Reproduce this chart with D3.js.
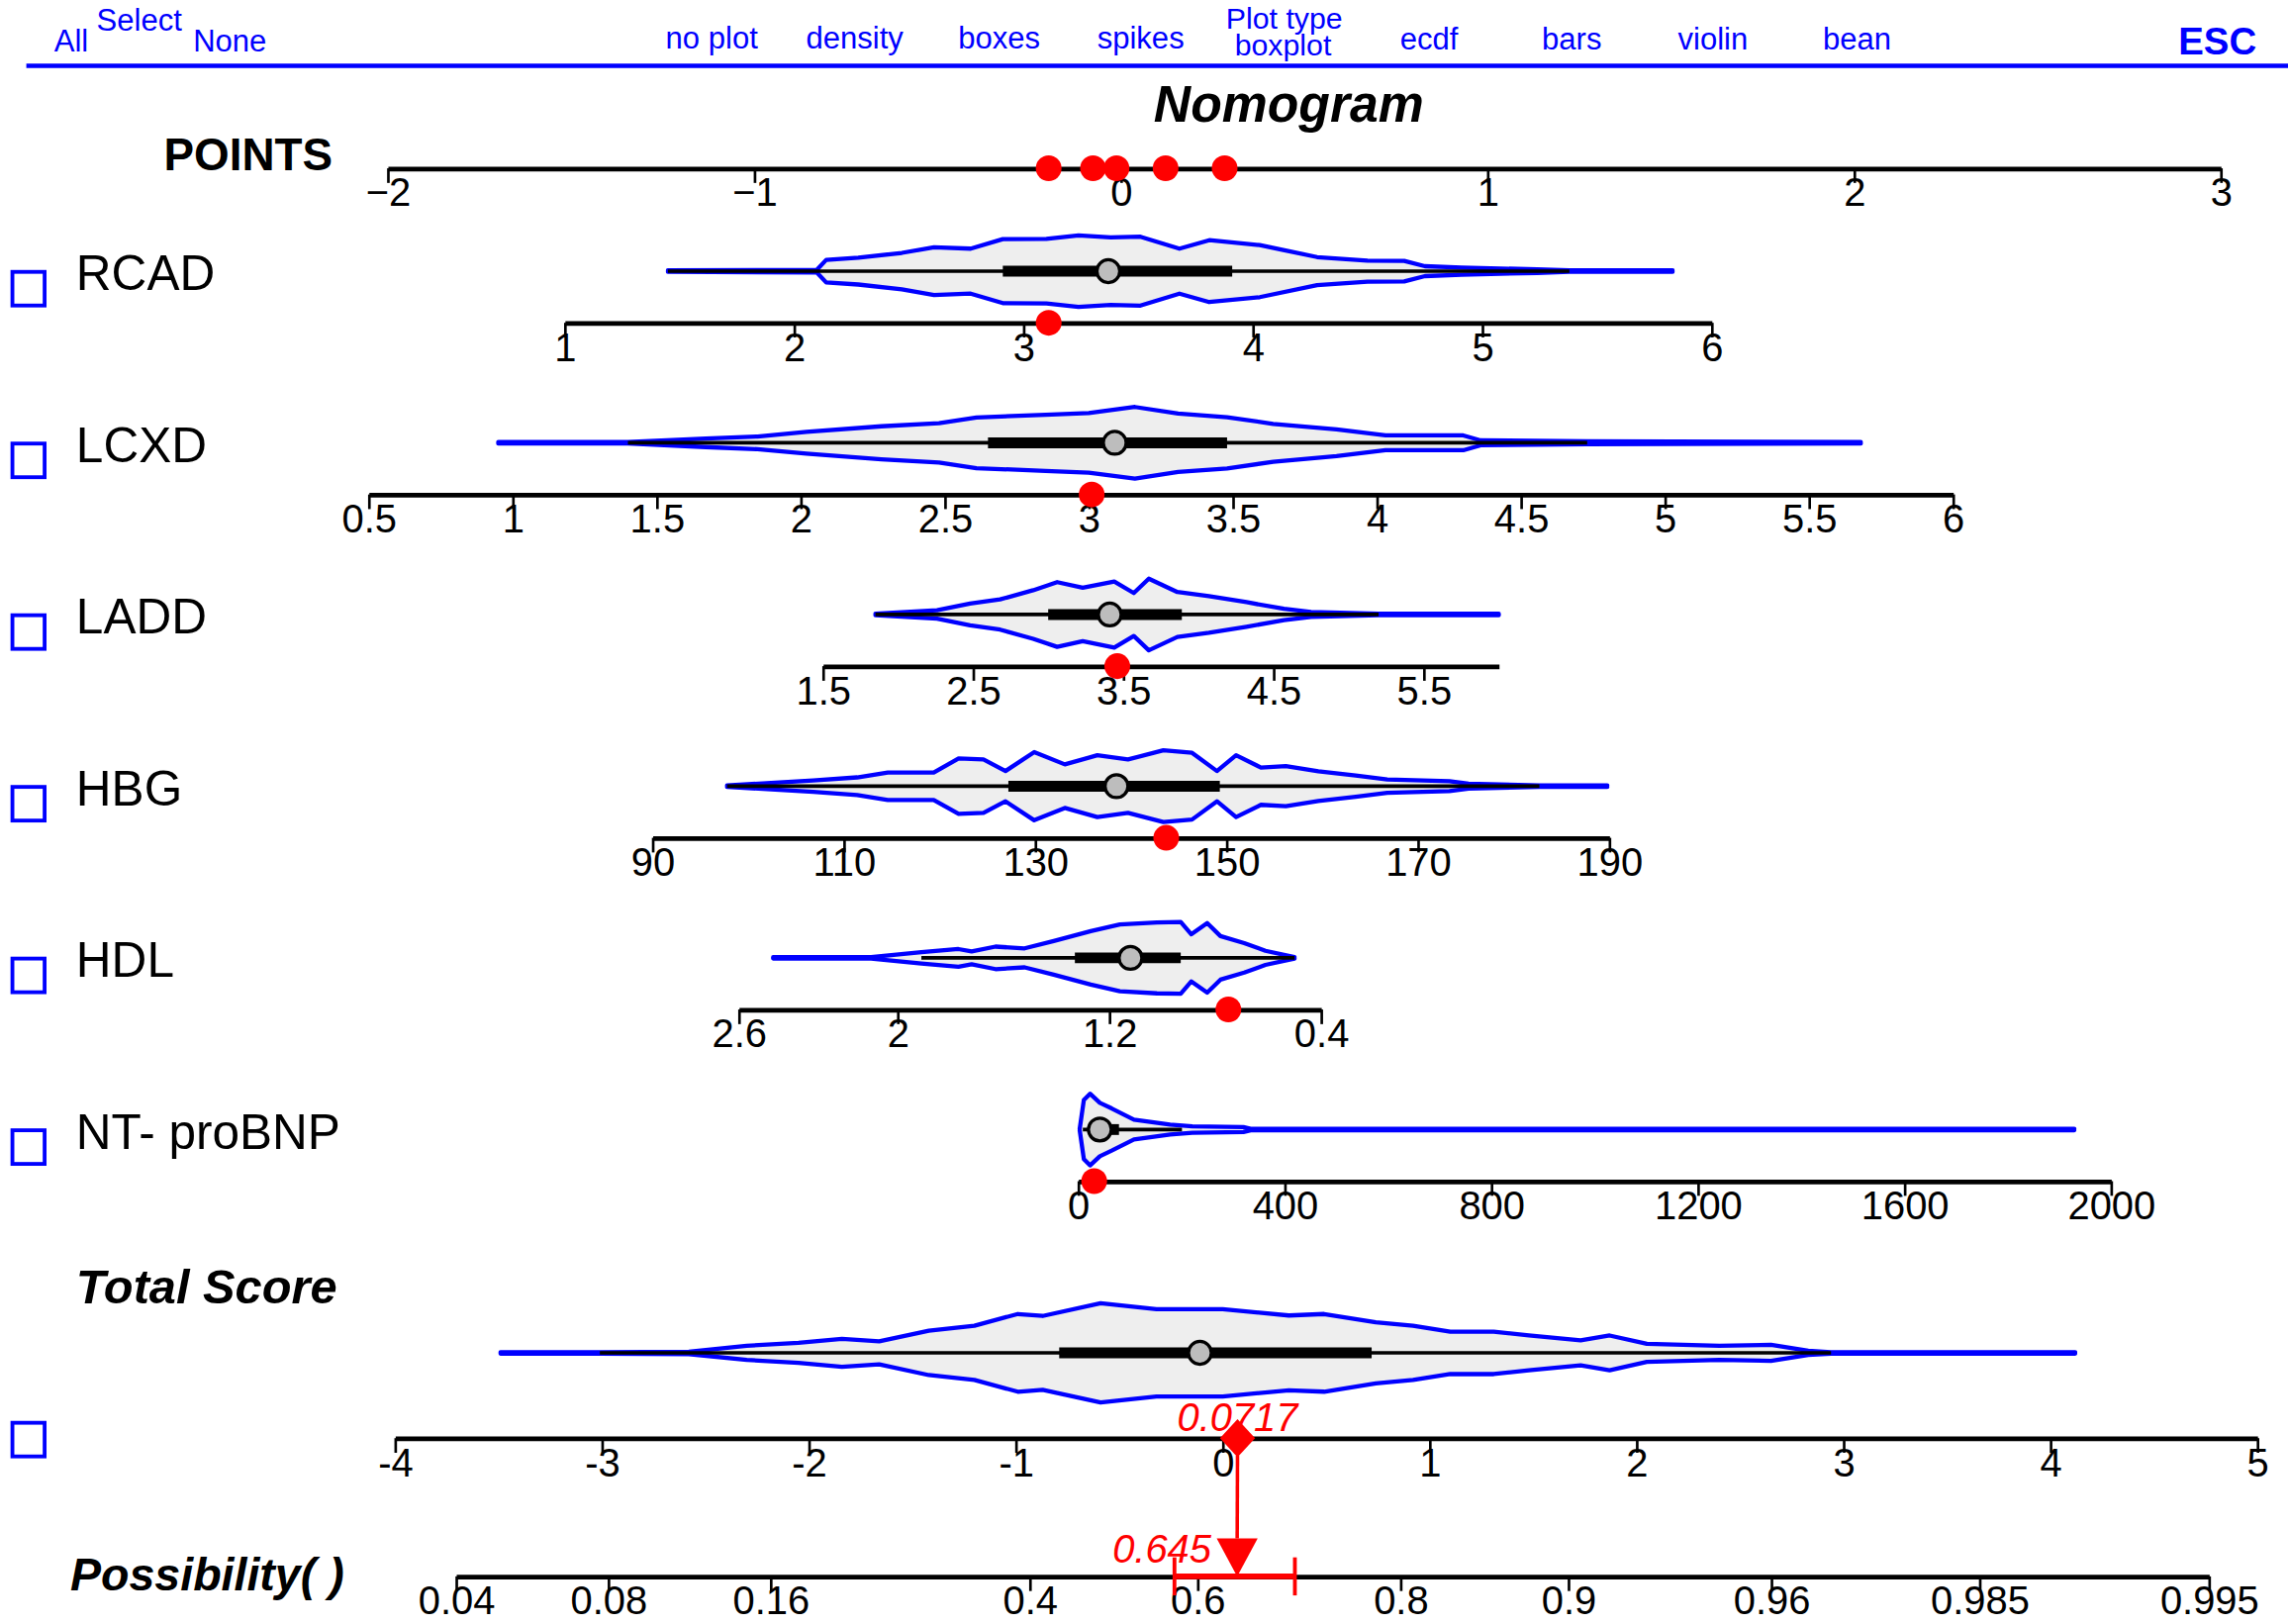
<!DOCTYPE html>
<html lang="en">
<head>
<meta charset="UTF-8">
<title>Nomogram</title>
<style>
*{margin:0;padding:0;}
body{background:#fff;}
</style>
</head>
<body>
<div id="container"></div>
<script src="https://cdn.jsdelivr.net/npm/d3@7/dist/d3.min.js"></script>
<script>
// ---- data ----
var menuLabels = ["All", "Select", "None", "no plot", "density", "boxes", "spikes", "Plot type", "boxplot", "ecdf", "bars", "violin", "bean"];
var rowNames = ["RCAD", "LCXD", "LADD", "HBG", "HDL", "NT- proBNP"];

var pointsTicks = [-2, -1, 0, 1, 2, 3];
var pointsValues = [-0.197, -0.076, -0.012, 0.122, 0.283];

var rcadTicks = [1, 2, 3, 4, 5, 6];
var rcadX = [1.45, 2.10, 2.14, 2.28, 2.47, 2.61, 2.77, 2.91, 3.10, 3.24, 3.38, 3.51, 3.68, 3.81, 4.03, 4.28, 4.50, 4.66, 4.75, 4.91, 5.24, 5.38, 5.83];
var rcadDens = [0, 2, 30, 36, 50, 66, 62, 89, 90, 100, 94, 96, 62, 86, 72, 38, 28, 27, 12, 8, 3, 0, 0];
var rcadBox = [1.45, 2.91, 3.37, 3.91, 5.38];
var rcadValue = 3.11;

var lcxdTicks = [0.5, 1, 1.5, 2, 2.5, 3, 3.5, 4, 4.5, 5, 5.5, 6];
var lcxdX = [0.95, 1.40, 1.67, 1.85, 2.02, 2.28, 2.48, 2.61, 2.85, 3.00, 3.16, 3.31, 3.48, 3.64, 3.86, 4.03, 4.30, 4.36, 4.73, 5.68];
var lcxdDens = [0, 0, 10, 16, 29, 45, 54, 70, 78, 83, 100, 81, 71, 52, 36, 19, 19, 5, 2, 0];
var lcxdBox = [1.40, 2.65, 3.09, 3.48, 4.73];
var lcxdValue = 3.01;

var laddTicks = [1.5, 2.5, 3.5, 4.5, 5.5];
var laddX = [1.85, 2.26, 2.48, 2.68, 2.90, 3.06, 3.23, 3.44, 3.57, 3.67, 3.86, 4.07, 4.32, 4.57, 4.75, 5.20, 6.00];
var laddDens = [0, 10, 29, 41, 67, 90, 74, 92, 59, 100, 62, 50, 33, 14, 5, 0, 0];
var laddBox = [1.85, 3.0, 3.41, 3.89, 5.2];
var laddValue = 3.46;

var hbgTicks = [90, 110, 130, 150, 170, 190];
var hbgX = [97.8, 106.8, 111.4, 114.6, 119.4, 122, 124.6, 126.9, 129.9, 133.1, 136.5, 139.7, 143.4, 146.4, 149, 151, 153.6, 156.2, 159.6, 163.5, 166.8, 173.3, 175.3, 182.7, 189.8];
var hbgDens = [0, 14, 23, 37, 37, 77, 74, 41, 95, 60, 86, 74, 100, 93, 41, 86, 51, 55, 40, 28, 17, 12, 5, 0, 0];
var hbgBox = [97.8, 127.2, 138.5, 149.3, 182.7];
var hbgValue = 143.7;

var hdlTicks = [2.6, 2, 1.2, 0.4];
var hdlX = [2.47, 2.10, 1.91, 1.77, 1.72, 1.63, 1.52, 1.41, 1.27, 1.16, 1.02, 0.93, 0.89, 0.83, 0.78, 0.69, 0.61, 0.50];
var hdlDens = [0, 0, 14, 23, 16, 30, 25, 46, 74, 93, 99, 100, 65, 97, 60, 40, 18, 0];
var hdlBox = [1.91, 1.33, 1.12, 0.93, 0.50];
var hdlValue = 0.75;

var ntTicks = [0, 400, 800, 1200, 1600, 2000];
var ntX = [3, 11, 23, 42, 65, 108, 178, 221, 320, 334, 1929];
var ntDens = [0, 82, 100, 74, 58, 26, 12, 7, 5, 0, 0];
var ntBox = [9, 23, 42, 79, 201];
var ntValue = 31;

var totalTicks = [-4, -3, -2, -1, 0, 1, 2, 3, 4, 5];
var totalX = [-3.49, -3.01, -2.58, -2.30, -2.05, -1.84, -1.66, -1.42, -1.20, -0.99, -0.87, -0.59, -0.32, 0.0, 0.32, 0.49, 0.74, 0.92, 1.10, 1.31, 1.48, 1.73, 1.87, 2.05, 2.40, 2.65, 2.83, 2.94, 4.12];
var totalDens = [0, 0, 1, 13, 19, 27, 22, 44, 54, 78, 74, 100, 88, 88, 75, 78, 61, 54, 42, 42, 34, 24, 34, 17, 13, 15, 3, 0, 0];
var totalBox = [-3.01, -0.79, -0.11, 0.72, 2.94];
var totalValue = 0.0717;

var probTicks = [0.04, 0.08, 0.16, 0.4, 0.6, 0.8, 0.9, 0.96, 0.985, 0.995];
var probLabels = ["0.04", "0.08", "0.16", "0.4", "0.6", "0.8", "0.9", "0.96", "0.985", "0.995"];
var probOffset = 0.527;   // logit(p) = score + offset
var probValue = 0.645;
var probCI = [0.573, 0.706];

// ---- layout (display units, drawn into a 1564 x 1110 viewBox) ----
var W = 1564, H = 1110;
var FONT = "'Liberation Sans', Arial, Helvetica, sans-serif";
var menuPos = [[37,35],[66,21],[132,35],[455,33],[551,33],[655,33],[750,33],[838,19.5],[844,38],[957,34],[1054,34],[1147,34],[1246,34]];
var menuSize = [21, 21, 21, 21, 21, 21, 21, 20.5, 20.5, 21, 21, 21, 21];
var rowAxis = [
  {domain:[1,6],     range:[386,1170],  ticks:rcadTicks, xs:rcadX, dens:rcadDens, box:rcadBox, v:rcadValue},
  {domain:[0.5,6],   range:[252,1335],  ticks:lcxdTicks, xs:lcxdX, dens:lcxdDens, box:lcxdBox, v:lcxdValue},
  {domain:[1.5,6],   range:[562.5,1024.5], ticks:laddTicks, xs:laddX, dens:laddDens, box:laddBox, v:laddValue},
  {domain:[90,190],  range:[446,1100],  ticks:hbgTicks, xs:hbgX, dens:hbgDens, box:hbgBox, v:hbgValue},
  {domain:[2.6,0.4], range:[505,903],   ticks:hdlTicks, xs:hdlX, dens:hdlDens, box:hdlBox, v:hdlValue},
  {domain:[0,2000],  range:[737,1443],  ticks:ntTicks, xs:ntX, dens:ntDens, box:ntBox, v:ntValue}
];
var row0 = 185.3, rowStep = 117.35, axisGap = 35.3;
var blue = "#0000ff", red = "#ff0000";

var svg = d3.select('#container').append('svg')
  .attr('width', 2312).attr('height', 1641)
  .attr('viewBox', '0 0 ' + W + ' ' + H)
  .style('display', 'block')
  .attr('font-family', FONT);

// ---- top menu ----
svg.selectAll('text.menu').data(menuLabels).enter().append('text')
  .attr('class', 'menu')
  .attr('x', function (d, i) { return menuPos[i][0]; })
  .attr('y', function (d, i) { return menuPos[i][1]; })
  .attr('font-size', function (d, i) { return menuSize[i]; }).attr('fill', blue)
  .text(function (d) { return d; });
svg.append('text').attr('x', 1489).attr('y', 37).attr('font-size', 26)
  .attr('font-weight', 'bold').attr('fill', blue).text('ESC');
svg.append('line').attr('x1', 18).attr('x2', W).attr('y1', 45).attr('y2', 45)
  .attr('stroke', blue).attr('stroke-width', 3);

svg.append('text').attr('x', 881).attr('y', 83).attr('text-anchor', 'middle')
  .attr('font-size', 35).attr('font-weight', 'bold').attr('font-style', 'italic')
  .text('Nomogram');

function drawAxis(scale, ticks, fmt, y) {
  var ax = d3.axisBottom(scale).tickValues(ticks).tickFormat(fmt)
    .tickSize(10).tickSizeOuter(0);
  var a = svg.append('g').attr('transform', 'translate(0,' + y + ')').call(ax);
  a.attr('font-size', 27).attr('font-family', FONT);
  a.select('.domain').attr('stroke', '#000').attr('stroke-width', 3.2);
  a.selectAll('.tick line').attr('stroke', '#000').attr('stroke-width', 1.8);
  a.selectAll('.tick text').attr('y', 26).attr('dy', 0).attr('fill', '#000');
  return a;
}

function drawViolin(scale, xs, dens, box, cy, hmax) {
  var h = d3.scaleLinear().domain([0, 100]).range([0, hmax]);
  var pts = xs.map(function (x, i) { return {x: x, d: dens[i]}; });
  svg.append('path').datum(pts)
    .attr('d', d3.area().x(function (d) { return scale(d.x); })
      .y0(function (d) { return cy + h(d.d); })
      .y1(function (d) { return cy - h(d.d); }))
    .attr('fill', '#eeeeee');
  [1, -1].forEach(function (s) {
    svg.append('path').datum(pts)
      .attr('d', d3.line().x(function (d) { return scale(d.x); })
        .y(function (d) { return cy + s * (h(d.d) + 0.5); }))
      .attr('fill', 'none').attr('stroke', blue).attr('stroke-width', 2.9)
      .attr('stroke-linejoin', 'round').attr('stroke-linecap', 'round');
  });
  svg.append('line').attr('x1', scale(box[0])).attr('x2', scale(box[4]))
    .attr('y1', cy).attr('y2', cy).attr('stroke', '#000').attr('stroke-width', 2.5);
  svg.append('line').attr('x1', scale(box[1])).attr('x2', scale(box[3]))
    .attr('y1', cy).attr('y2', cy).attr('stroke', '#000').attr('stroke-width', 7.4);
  svg.append('circle').attr('cx', scale(box[2])).attr('cy', cy).attr('r', 7.8)
    .attr('fill', '#bdbdbd').attr('stroke', '#000').attr('stroke-width', 2.2);
}

function checkbox(y) {
  svg.append('rect').attr('x', 8.5).attr('y', y).attr('width', 22).attr('height', 23)
    .attr('fill', 'none').attr('stroke', blue).attr('stroke-width', 2.6);
}

function redDot(x, y) {
  svg.append('circle').attr('cx', x).attr('cy', y).attr('r', 8.8).attr('fill', red);
}

// ---- POINTS ----
var pointsScale = d3.scaleLinear().domain([-2, 3]).range([265, 1518]);
svg.append('text').attr('x', 112).attr('y', 116).attr('font-size', 31)
  .attr('font-weight', 'bold').text('POINTS');
drawAxis(pointsScale, pointsTicks, function (d) { return d < 0 ? '\u2212' + (-d) : String(d); }, 115);
pointsValues.forEach(function (v) { redDot(pointsScale(v), 115); });

// ---- predictor rows ----
rowAxis.forEach(function (r, i) {
  var cy = row0 + i * rowStep, ay = cy + axisGap;
  var sc = d3.scaleLinear().domain(r.domain).range(r.range);
  checkbox(cy + 0.5);
  svg.append('text').attr('x', 52).attr('y', cy + 13).attr('font-size', 33.5).text(rowNames[i]);
  drawViolin(sc, r.xs, r.dens, r.box, cy, 24);
  drawAxis(sc, r.ticks, function (d) { return String(d); }, ay);
  redDot(sc(r.v), ay);
});

// ---- Total Score ----
var totalScale = d3.scaleLinear().domain([-4, 5]).range([270, 1543]);
var totalCy = 924.7, totalAy = 983;
svg.append('text').attr('x', 52).attr('y', 891).attr('font-size', 33)
  .attr('font-weight', 'bold').attr('font-style', 'italic').text('Total Score');
checkbox(972.5);
drawViolin(totalScale, totalX, totalDens, totalBox, totalCy, 33.4);
drawAxis(totalScale, totalTicks, function (d) { return String(d); }, totalAy);

// ---- Possibility ----
function toScore(p) { return Math.log(p / (1 - p)) - probOffset; }
var possAy = 1077.5;
var possScale = d3.scaleLinear()
  .domain([toScore(probTicks[0]), toScore(probTicks[probTicks.length - 1])])
  .range([totalScale(toScore(probTicks[0])), totalScale(toScore(probTicks[probTicks.length - 1]))]);
svg.append('text').attr('x', 48).attr('y', 1087).attr('font-size', 31.5)
  .attr('font-weight', 'bold').attr('font-style', 'italic').text('Possibility( )');
drawAxis(possScale, probTicks.map(toScore), function (d, i) { return probLabels[i]; }, possAy);

// ---- prediction marks ----
var tx = totalScale(totalValue);
var px = possScale(toScore(probValue));
var ci0 = possScale(toScore(probCI[0])), ci1 = possScale(toScore(probCI[1]));
svg.append('line').attr('x1', ci0).attr('x2', ci1).attr('y1', possAy).attr('y2', possAy)
  .attr('stroke', red).attr('stroke-width', 4);
[ci0, ci1].forEach(function (x) {
  svg.append('line').attr('x1', x).attr('x2', x).attr('y1', possAy - 13).attr('y2', possAy + 13)
    .attr('stroke', red).attr('stroke-width', 2.6);
});
svg.append('line').attr('x1', tx).attr('x2', px).attr('y1', totalAy + 12).attr('y2', possAy - 26)
  .attr('stroke', red).attr('stroke-width', 2.4);
svg.append('path')
  .attr('d', 'M' + (px - 14) + ',' + (possAy - 26) + 'L' + (px + 14) + ',' + (possAy - 26) + 'L' + px + ',' + possAy + 'Z')
  .attr('fill', red);
svg.append('path')
  .attr('d', 'M' + tx + ',' + (totalAy - 13) + 'L' + (tx + 12) + ',' + totalAy + 'L' + tx + ',' + (totalAy + 13) + 'L' + (tx - 12) + ',' + totalAy + 'Z')
  .attr('fill', red);
svg.append('text').attr('x', tx).attr('y', 978).attr('text-anchor', 'middle')
  .attr('font-size', 27).attr('font-style', 'italic').attr('fill', red).text(String(totalValue));
svg.append('text').attr('x', 828).attr('y', 1068).attr('text-anchor', 'end')
  .attr('font-size', 27).attr('font-style', 'italic').attr('fill', red).text(String(probValue));
</script>
</body>
</html>
